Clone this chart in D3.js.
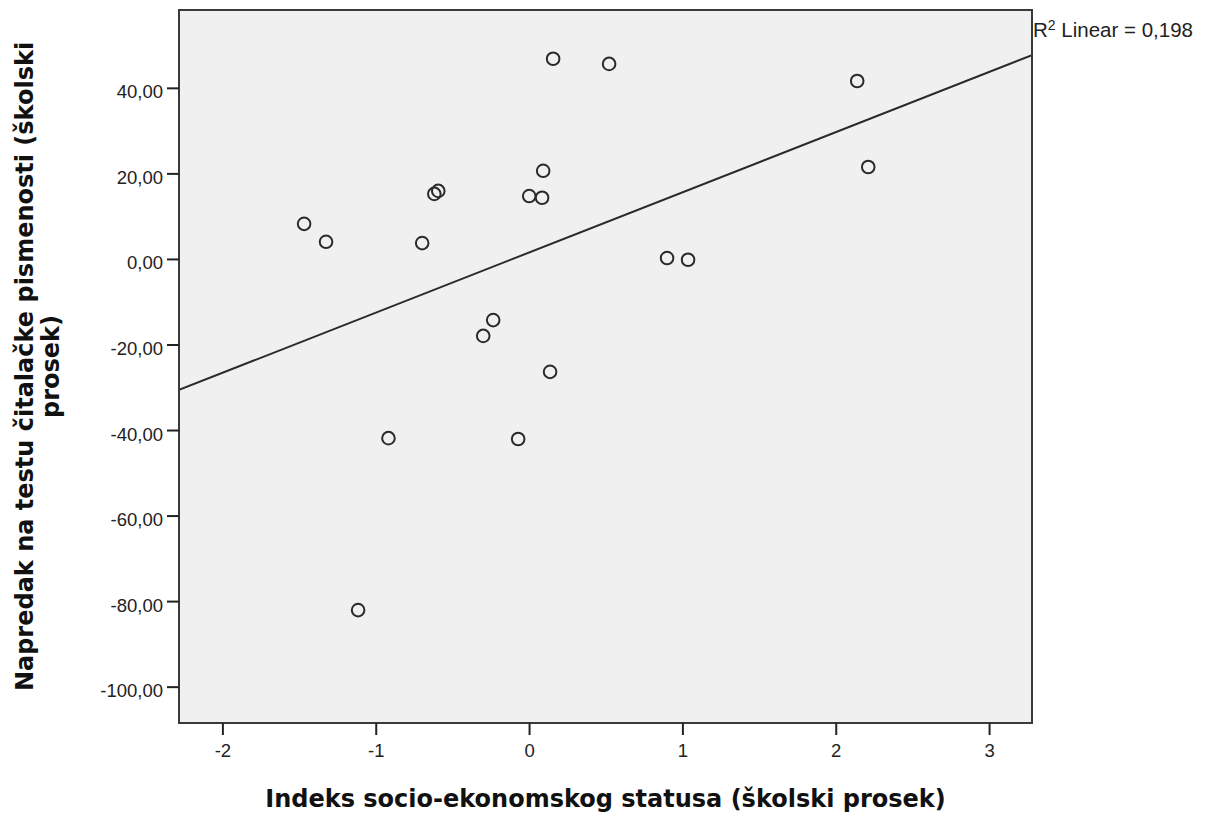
<!DOCTYPE html>
<html>
<head>
<meta charset="utf-8">
<script src="https://cdn.jsdelivr.net/npm/d3@7"></script>
<style>
  body { margin: 0; background: #fff; }
  text { font-family: "Liberation Sans", Arial, sans-serif; fill: #222; }
  .title { font-family: "DejaVu Sans", "Liberation Sans", sans-serif; font-weight: bold; font-size: 24px; fill: #111; }
</style>
</head>
<body>
<svg id="chart"></svg>
<script>
// socio-economic index per school
const sesIndex = [-1.467, -1.324, -1.115, -0.917, -0.697, -0.618, -0.592, -0.299, -0.234, -0.071,
  0.001, 0.085, 0.092, 0.137, 0.157, 0.522, 0.900, 1.037, 2.140, 2.212];
// reading literacy progress per school
const progress = [8.2, 4.0, -82.1, -41.9, 3.7, 15.2, 15.9, -18.0, -14.3, -42.1,
  14.7, 14.3, 20.6, -26.4, 46.8, 45.6, 0.2, -0.2, 41.6, 21.5];
const xTicks = [-2, -1, 0, 1, 2, 3];
const yTicks = [-100, -80, -60, -40, -20, 0, 20, 40];
const fitLine = [1.5, 14.07]; // intercept, slope
const r2Label = "Linear = 0,198";

const width = 1214;
const height = 816;
const margin = { left: 179, right: 182, top: 10, bottom: 93 };
const visWidth = width - margin.left - margin.right;
const visHeight = height - margin.top - margin.bottom;

const svg = d3.select('svg#chart').attr('width', width).attr('height', height);
const g = svg.append('g').attr('transform', 'translate(' + margin.left + ',' + margin.top + ')');

var xScale = d3.scaleLinear().domain([-2.283, 3.28]).range([0, visWidth]);
var yScale = d3.scaleLinear().domain([-108.5, 58.2]).range([visHeight, 0]);

g.append('rect')
  .attr('width', visWidth).attr('height', visHeight)
  .attr('fill', '#f0f0f0');

g.append('clipPath').attr('id', 'clip')
  .append('rect').attr('width', visWidth).attr('height', visHeight);

// regression line
var x0 = xScale.domain()[0], x1 = xScale.domain()[1];
g.append('line')
  .attr('clip-path', 'url(#clip)')
  .attr('x1', xScale(x0)).attr('y1', yScale(fitLine[0] + fitLine[1] * x0))
  .attr('x2', xScale(x1)).attr('y2', yScale(fitLine[0] + fitLine[1] * x1))
  .attr('stroke', '#2a2a2a').attr('stroke-width', 2);

// points
var pts = sesIndex.map((d, i) => ({ x: d, y: progress[i] }));
g.selectAll('circle').data(pts)
  .enter().append('circle')
  .attr('cx', d => xScale(d.x))
  .attr('cy', d => yScale(d.y))
  .attr('r', 6.3)
  .attr('fill', 'none')
  .attr('stroke', '#2a2a2a')
  .attr('stroke-width', 2);

// frame
g.append('rect')
  .attr('width', visWidth).attr('height', visHeight)
  .attr('fill', 'none').attr('stroke', '#3a3a3a').attr('stroke-width', 2);

// axes
var fmt = d => d3.format('.2f')(d).replace('.', ',').replace('−', '-');
var yAxis = g.append('g')
  .call(d3.axisLeft(yScale).tickValues(yTicks).tickSize(12).tickFormat(fmt));
var xAxis = g.append('g')
  .attr('transform', 'translate(0,' + visHeight + ')')
  .call(d3.axisBottom(xScale).tickValues(xTicks).tickSize(12).tickFormat(d => String(d).replace('−', '-')));
[xAxis, yAxis].forEach(a => {
  a.select('.domain').remove();
  a.selectAll('.tick line').attr('stroke', '#222').attr('stroke-width', 2);
  a.selectAll('.tick text').attr('font-size', 18.5).attr('font-family', '"Liberation Sans", Arial, sans-serif').attr('fill', '#222');
});
yAxis.selectAll('.tick text').attr('x', -16).attr('dy', 10);
xAxis.selectAll('.tick text').attr('y', 34).attr('dy', 0);

// R² label
var r2 = svg.append('text')
  .attr('x', margin.left + visWidth + 1)
  .attr('y', 37)
  .attr('font-size', 20.5);
r2.append('tspan').text('R');
r2.append('tspan').attr('dy', -7).attr('font-size', 14).text('2');
r2.append('tspan').attr('dy', 7).text(' ' + r2Label);

// axis titles
svg.append('text').attr('class', 'title')
  .attr('x', margin.left + visWidth / 2).attr('y', 807)
  .attr('text-anchor', 'middle')
  .text('Indeks socio-ekonomskog statusa (školski prosek)');

var yt = svg.append('text').attr('class', 'title')
  .attr('transform', 'translate(33,' + (margin.top + visHeight / 2) + ') rotate(-90)')
  .attr('text-anchor', 'middle');
yt.append('tspan').attr('x', 0).attr('y', 0).text('Napredak na testu čitalačke pismenosti (školski');
yt.append('tspan').attr('x', 0).attr('y', 26).text('prosek)');
</script>
</body>
</html>
